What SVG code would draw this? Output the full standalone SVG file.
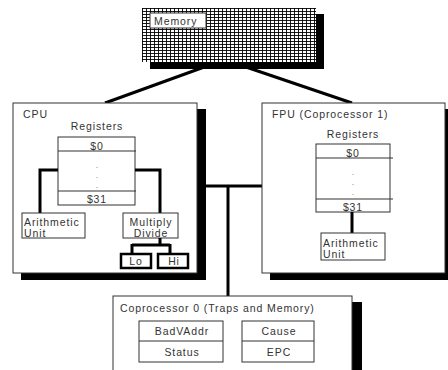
<svg xmlns="http://www.w3.org/2000/svg" width="448" height="370" viewBox="0 0 448 370">
<defs>
<pattern id="grid" x="142" y="8" width="4" height="3" patternUnits="userSpaceOnUse">
<rect width="4" height="3" fill="#fff"/>
<path d="M0.5 0V3M0 0.5H4" stroke="#000" stroke-width="0.9" fill="none"/>
</pattern>
</defs>
<style>
text{font-family:"Liberation Sans",Arial,sans-serif;font-size:10.5px;letter-spacing:0.9px;fill:#333}
.c{text-anchor:middle}
.d{font-size:7px;letter-spacing:0}
.box{fill:#fff;stroke:#333;stroke-width:1}
.sh{fill:#000}
.thin{stroke:#333;stroke-width:1;fill:none}
.thick{stroke:#000;stroke-width:3;fill:none}
</style>
<rect width="448" height="370" fill="#fff"/>
<g id="connectors">
<path d="M207 66L105 103M243 66L352 103" class="thick"/>
<path d="M206 186H262M228 186V296" class="thick"/>
</g>
<g id="memory">
<rect x="150" y="14" width="174" height="55" class="sh"/>
<rect x="142" y="8" width="174" height="54" fill="url(#grid)"/>
<rect x="150" y="13" width="56" height="15" class="box"/>
<text x="154" y="25">Memory</text>
</g>
<g id="cpu">
<rect x="21" y="109" width="185" height="171" class="sh"/>
<rect x="13" y="103" width="184" height="170" class="box"/>
<text x="23" y="118">CPU</text>
<text x="97" y="130" class="c">Registers</text>
<rect x="58" y="137" width="77" height="68" class="box"/>
<path d="M58 151H136M58 191H136" class="thin"/>
<text x="97" y="150" class="c">$0</text>
<text x="97" y="168" class="c d">.</text>
<text x="97" y="178" class="c d">.</text>
<text x="97" y="188" class="c d">.</text>
<text x="97" y="203" class="c">$31</text>
<path d="M58 170H40V213M135 170H160V213" class="thick"/>
<rect x="22" y="213" width="63" height="25" class="box"/>
<text x="24" y="226">Arithmetic</text>
<text x="24" y="237">Unit</text>
<rect x="123" y="213" width="55" height="25" class="box"/>
<text x="151" y="226" class="c">Multiply</text>
<text x="151" y="237" class="c">Divide</text>
<path d="M160 238V245M132 245H170M132 244V253M170 244V253" class="thick"/>
<rect x="121" y="254" width="30" height="14" fill="#fff" stroke="#000" stroke-width="2.5"/>
<text x="136" y="265" class="c">Lo</text>
<rect x="158" y="254" width="30" height="14" fill="#fff" stroke="#000" stroke-width="2.5"/>
<text x="174" y="265" class="c">Hi</text>
</g>
<g id="fpu">
<rect x="270" y="109" width="185" height="171" class="sh"/>
<rect x="262" y="103" width="183" height="170" class="box"/>
<text x="272" y="118">FPU (Coprocessor 1)</text>
<text x="353" y="138" class="c">Registers</text>
<rect x="316" y="144" width="74" height="68" class="box"/>
<path d="M316 158H393M316 199H393" class="thin"/>
<text x="353" y="157" class="c">$0</text>
<text x="353" y="175" class="c d">.</text>
<text x="353" y="185" class="c d">.</text>
<text x="353" y="195" class="c d">.</text>
<text x="353" y="211" class="c">$31</text>
<path d="M352 212V233" class="thick"/>
<rect x="321" y="233" width="64" height="27" class="box"/>
<text x="323" y="247">Arithmetic</text>
<text x="323" y="258">Unit</text>
</g>
<g id="cp0">
<rect x="121" y="302" width="241" height="80" class="sh"/>
<rect x="113" y="296" width="239" height="80" class="box"/>
<text x="120" y="312">Coprocessor 0 (Traps and Memory)</text>
<rect x="139" y="321" width="84" height="41" class="box"/>
<path d="M139 341H223" class="thin"/>
<text x="182" y="335" class="c">BadVAddr</text>
<text x="182" y="356" class="c">Status</text>
<rect x="242" y="321" width="72" height="41" class="box"/>
<path d="M242 341H314" class="thin"/>
<text x="279" y="335" class="c">Cause</text>
<text x="279" y="356" class="c">EPC</text>
</g>
</svg>
